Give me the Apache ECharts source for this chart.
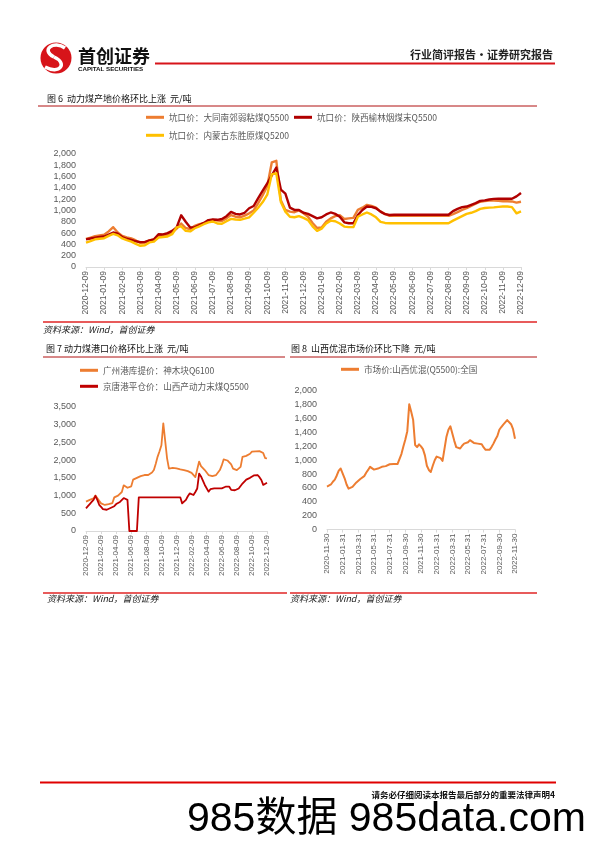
<!DOCTYPE html>
<html><head><meta charset="utf-8">
<script src="https://cdn.jsdelivr.net/npm/echarts@6/dist/echarts.min.js"></script>
<style>html,body{margin:0;padding:0;background:#fff}#c{width:596px;height:842px}</style>
</head><body><div id="c"></div>
<script>
// ---- tick labels ----
const months6 = ['2020-12-09','2021-01-09','2021-02-09','2021-03-09','2021-04-09','2021-05-09','2021-06-09','2021-07-09','2021-08-09','2021-09-09','2021-10-09','2021-11-09','2021-12-09','2022-01-09','2022-02-09','2022-03-09','2022-04-09','2022-05-09','2022-06-09','2022-07-09','2022-08-09','2022-09-09','2022-10-09','2022-11-09','2022-12-09'];
const months7 = ['2020-12-09','2021-02-09','2021-04-09','2021-06-09','2021-08-09','2021-10-09','2021-12-09','2022-02-09','2022-04-09','2022-06-09','2022-08-09','2022-10-09','2022-12-09'];
const months8 = ['2020-11-30','2021-01-31','2021-03-31','2021-05-31','2021-07-31','2021-09-30','2021-11-30','2022-01-31','2022-03-31','2022-05-31','2022-07-31','2022-09-30','2022-11-30'];
// weekly samples, 4 per month
const STEPS_PER_MONTH = 4;

// ---- Figure 6 series (元/吨) ----
const datong = [497,520,545,560,570,630,705,610,550,525, 505,470,425,430,470,490,545,555,570,610, 680,770,690,670,730,760,775,800,835,820, 815,860,920,890,880,910,950,1000,1130,1270, 1430,1850,1880,1180,1010,980,970,1000,950,890, 780,690,700,800,860,900,915,850,860,870, 1010,1050,1100,1080,1050,980,940,905,905,905, 905,905,905,905,905,905,905,905,905,905, 905,935,970,1010,1040,1080,1120,1155,1165,1175, 1178,1170,1165,1165,1160,1140,1155];
const yulin = [490,505,520,530,540,575,610,590,530,500, 480,455,440,445,470,490,580,575,600,640, 700,915,800,700,705,740,780,830,840,835, 850,900,975,940,930,960,1040,1080,1220,1350, 1480,1620,1760,1370,1300,1050,1010,1010,960,940, 900,860,880,930,965,940,890,790,775,775, 920,1010,1070,1065,1040,980,935,920,925,925, 925,925,925,925,925,925,925,925,925,925, 925,990,1030,1060,1070,1100,1130,1170,1180,1195, 1205,1207,1207,1207,1207,1250,1310];
const dongsheng = [432,460,490,500,510,550,585,560,505,475, 450,410,375,385,435,450,520,530,540,580, 700,720,640,630,686,720,757,790,805,770, 765,810,852,840,835,855,880,960,1050,1150, 1280,1640,1660,1150,980,890,880,900,870,830, 720,640,680,770,820,810,770,715,705,705, 890,930,965,930,880,800,780,775,775,775, 775,775,775,775,775,775,775,775,775,775, 775,820,860,900,940,960,990,1030,1045,1050, 1055,1065,1070,1070,1060,950,985];

// ---- Figure 7 series ----
const guangzhou = [830,850,880,900,920,1000,1010,850,780,760, 735,740,760,780,790,950,960,1000,1020,1100, 1290,1260,1220,1240,1260,1450,1490,1500,1515,1550, 1570,1580,1580,1580,1580,1650,1720,1900,2100,2250, 2420,3040,3010,2050,1760,1720,1780,1790,1770,1760, 1740,1720,1720,1720,1690,1660,1640,1620,1520,1530, 1960,1830,1800,1720,1680,1580,1560,1550,1560,1580, 1600,1720,1850,2020,2000,1990,1980,1880,1760,1720, 1720,1750,1810,2090,2100,2120,2140,2180,2240,2250, 2250,2255,2255,2250,2200,2060,2050];
const jingtang = [640,700,760,820,880,990,880,740,680,620, 580,600,640,650,680,700,760,790,820,870, 930,940,880,0,0,0,0,0,950,950, 950,950,950,950,950,950,950,950,950,950, 950,950,950,950,950,950,950,950,950,950, 950,780,820,880,980,1060,1060,1015,1100,1200, 1620,1540,1580,1300,1250,1110,1180,1200,1203,1205, 1205,1205,1205,1205,1250,1250,1250,1160,1150,1150, 1160,1200,1250,1340,1390,1450,1480,1500,1515,1570, 1625,1580,1520,1440,1300,1290,1360];

// ---- Figure 8 series ----
const shanxi = [620,635,650,690,720,780,850,880,870,740, 650,590,595,615,640,680,700,730,740,770, 820,860,905,880,865,875,880,895,905,910, 915,930,942,945,945,945,945,960,1090,1200, 1300,1420,1810,1700,1580,1220,1190,1230,1200,1160, 1070,920,860,830,920,1000,1053,1070,1030,990, 1010,1340,1440,1490,1470,1280,1190,1175,1170,1210, 1240,1255,1260,1290,1315,1250,1240,1240,1240,1230, 1185,1150,1145,1150,1190,1240,1300,1350,1440,1480, 1515,1540,1580,1560,1520,1450,1310];

const N1 = '坑口价：大同南郊弱粘煤Q5500';
const N2 = '坑口价：陕西榆林烟煤末Q5500';
const N3 = '坑口价：内蒙古东胜原煤Q5200';
const N4 = '广州港库提价：神木块Q6100';
const N5 = '京唐港平仓价：山西产动力末煤Q5500';
const N6 = '市场价:山西优混(Q5500):全国';

const ORANGE = '#ED7D31', DRED = '#B00000', YEL = '#FFC000';
const AX = '#595959', AXL = '#D9D9D9';
const CJK = '"Noto Sans CJK SC"';

const pts = arr => arr.map((v, i) => [i / STEPS_PER_MONTH, v]);

function xAx(grid, interval, labels, fs) {
  return {type:'value', gridIndex:grid, min:0, max:24, interval:interval,
    axisLine:{show:true, onZero:false, lineStyle:{color:AXL, width:1}},
    axisTick:{show:true, length:3, lineStyle:{color:AXL}},
    axisLabel:{rotate:90, fontSize:fs, color:AX, margin:4, fontFamily:'Liberation Sans',
      showMinLabel:true, showMaxLabel:true,
      formatter: v => labels[Math.round(v / interval)] || ''},
    splitLine:{show:false}};
}
function yAx(grid, max, interval) {
  return {type:'value', gridIndex:grid, min:0, max:max, interval:interval,
    axisLine:{show:false}, axisTick:{show:false},
    axisLabel:{fontSize:9, color:AX, margin:10, fontFamily:'Liberation Sans',
      formatter: v => v.toLocaleString('en-US')},
    splitLine:{show:false}};
}
function lg(name, left, cy) {
  return {data:[name], left:left, top:cy - 6, padding:0, itemWidth:18, itemHeight:3, icon:'rect',
    selectedMode:false, textStyle:{fontSize:8.6, color:AX, fontFamily:CJK}};
}
function ser(name, grid, data, color, w) {
  return {name:name, type:'line', xAxisIndex:grid, yAxisIndex:grid, data:pts(data),
    showSymbol:false, symbol:'none', smooth:false, animation:false,
    emphasis:{disabled:true},
    itemStyle:{color:color}, lineStyle:{color:color, width:w, join:'round'}};
}
function txt(x, y, text, font, fill, align, extra) {
  return Object.assign({type:'text', x:x, y:y, silent:true,
    style:{text:text, font:font, fill:fill || '#000', align:align || 'left', verticalAlign:'middle'}}, extra || {});
}
function ln(x1, y1, x2, y2, color, w) {
  return {type:'line', silent:true, shape:{x1:x1, y1:y1, x2:x2, y2:y2}, style:{stroke:color, lineWidth:w}};
}

const chart = echarts.init(document.getElementById('c'), null, {renderer:'canvas', width:596, height:842});
chart.setOption({
  animation:false,
  backgroundColor:'#fff',
  grid:[
    {left:86, top:154, width:435, height:113},
    {left:86, top:407, width:181, height:124},
    {left:327, top:391, width:188, height:138.5}
  ],
  xAxis:[xAx(0, 1, months6, 8.5), xAx(1, 2, months7, 8), xAx(2, 2, months8, 8)],
  yAxis:[yAx(0, 2000, 200), yAx(1, 3500, 500), yAx(2, 2000, 200)],
  legend:[lg(N1, 146, 119), lg(N2, 294, 119), lg(N3, 146, 137), lg(N4, 80, 372), lg(N5, 80, 388), lg(N6, 341, 371)],
  series:[
    ser(N1, 0, datong, ORANGE, 2.4),
    ser(N2, 0, yulin, DRED, 2.4),
    ser(N3, 0, dongsheng, YEL, 2.4),
    ser(N4, 1, guangzhou, ORANGE, 1.8),
    ser(N5, 1, jingtang, '#C00000', 1.8),
    ser(N6, 2, shanxi, ORANGE, 2)
  ],
  graphic:[
    // logo
    {type:'circle', silent:true, shape:{cx:56, cy:58, r:15.5}, style:{fill:'#D7141A'}},
    {type:'bezierCurve', silent:true, shape:{x1:65, y1:48, cpx1:54, cpy1:40, cpx2:40, cpy2:50, x2:54, y2:57}, style:{stroke:'#fff', lineWidth:3.5, fill:null}},
    {type:'bezierCurve', silent:true, shape:{x1:54, y1:57, cpx1:68, cpy1:63, cpx2:60, cpy2:75, x2:45, y2:67}, style:{stroke:'#fff', lineWidth:3.5, fill:null}},
    txt(78, 56, '首创证券', 'bold 18px ' + CJK, '#111'),
    txt(78, 69.5, 'CAPITAL SECURITIES', 'bold 6.2px "Liberation Sans"', '#111'),
    txt(553, 55, '行业简评报告·证券研究报告', 'bold 11px ' + CJK, '#222', 'right'),
    ln(155, 63.5, 555, 63.5, '#D7141A', 2),
    // figure 6
    txt(47, 99, '图 6  动力煤产地价格环比上涨  元/吨', '9px ' + CJK, '#111'),
    ln(38, 106, 537, 106, '#B01010', 1),
    ln(43, 322, 537, 322, '#E02424', 1.5),
    txt(43, 329.5, '资料来源：Wind，首创证券', 'italic 9px ' + CJK, '#222'),
    // figure 7
    txt(46, 349, '图 7 动力煤港口价格环比上涨  元/吨', '9px ' + CJK, '#111'),
    ln(43, 357, 285, 357, '#B01010', 1),
    ln(43, 593, 287, 593, '#E02424', 1.5),
    txt(47, 599, '资料来源：Wind，首创证券', 'italic 9px ' + CJK, '#222'),
    // figure 8
    txt(291, 349, '图 8  山西优混市场价环比下降  元/吨', '9px ' + CJK, '#111'),
    ln(290, 357, 537, 357, '#B01010', 1),
    ln(290, 593, 537, 593, '#E02424', 1.5),
    txt(290, 599, '资料来源：Wind，首创证券', 'italic 9px ' + CJK, '#222'),
    // footer
    ln(40, 782.5, 556, 782.5, '#E00000', 2),
    txt(555, 795, '请务必仔细阅读本报告最后部分的重要法律声明4', 'bold 8.5px ' + CJK, '#111', 'right'),
    txt(187, 820, '985数据 985data.com', '41px "Liberation Sans", ' + CJK, '#000')
  ]
});
</script></body></html>
